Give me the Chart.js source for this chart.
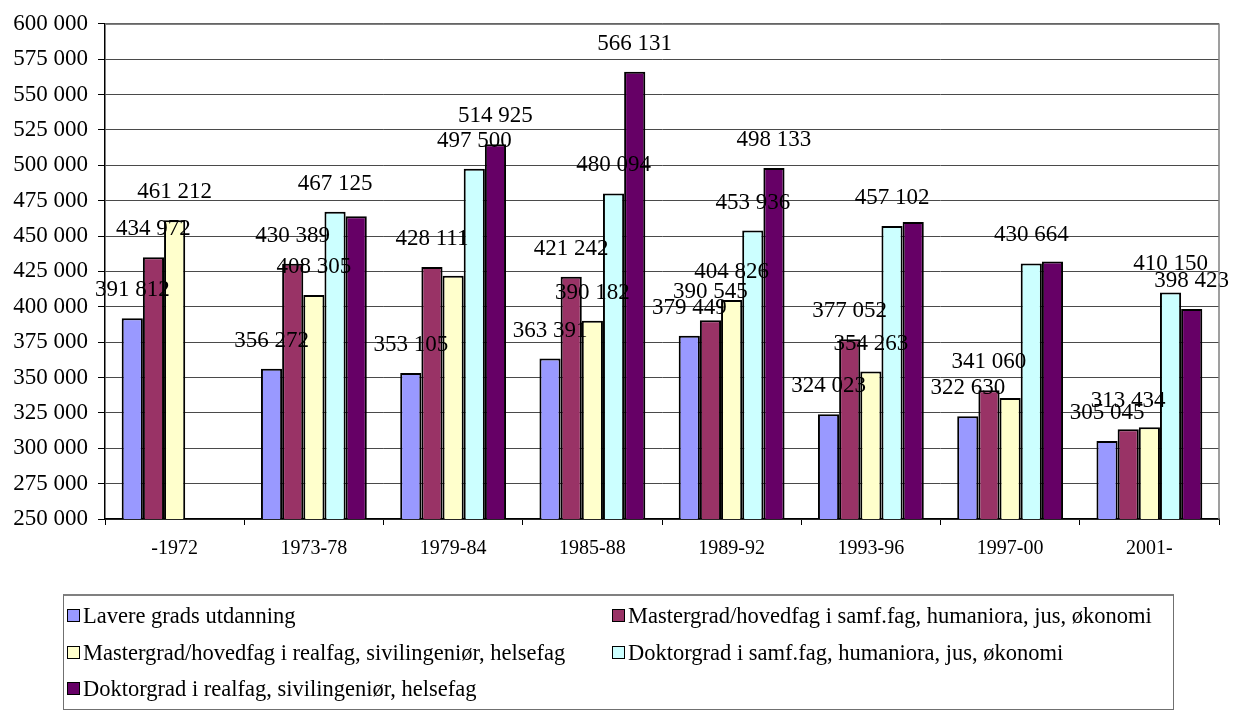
<!DOCTYPE html>
<html>
<head>
<meta charset="utf-8">
<script src="https://cdn.jsdelivr.net/npm/chart.js@4.4.1/dist/chart.umd.min.js"></script>
<style>
  html, body { margin: 0; padding: 0; background: #fff; }
  #wrap { position: relative; width: 1236px; height: 711px; overflow: hidden; }
  #c { position: absolute; left: 0; top: 0; }
  #legend {
    position: absolute; left: 63px; top: 594px; width: 1111px; height: 116px;
    border: 1px solid #707070; border-top: 2px solid #808080; box-sizing: border-box;
    font-family: "Liberation Serif", "Times New Roman", serif; font-size: 22.5px; color: #000;
  }
  .item { position: absolute; height: 26px; line-height: 26px; white-space: nowrap; }
  .sw { display: inline-block; width: 11px; height: 11px; border: 1px solid #000; vertical-align: middle; margin-right: 3px; position: relative; top: -2px; }
</style>
</head>
<body>
<div id="wrap">
  <canvas id="c" width="1236" height="711"></canvas>
  <div id="legend"></div>
</div>
<script>
const categories = ['-1972', '1973-78', '1979-84', '1985-88', '1989-92', '1993-96', '1997-00', '2001-'];

const seriesNames = [
  'Lavere grads utdanning',
  'Mastergrad/hovedfag i samf.fag, humaniora, jus, økonomi',
  'Mastergrad/hovedfag i realfag, sivilingeniør, helsefag',
  'Doktorgrad i samf.fag, humaniora, jus, økonomi',
  'Doktorgrad i realfag, sivilingeniør, helsefag'
];

const lavere     = [391812, 356272, 353105, 363391, 379449, 324023, 322630, 305045];
const masterSamf = [434972, 430389, 428111, 421242, 390545, 377052, 341060, 313434];
const masterReal = [461212, 408305, 422000, 390182, 404826, 354263, 335500, 314800];
const doktorSamf = [null,   467125, 497500, 480094, 453936, 457102, 430664, 410150];
const doktorReal = [null,   464000, 514925, 566131, 498133, 460000, 432000, 398423];

// which value labels are printed (some are not shown in the original)
const showLavere     = [true, true, true, true, true, true, true, true];
const showMasterSamf = [true, true, true, true, true, true, true, true];
const showMasterReal = [true, true, false, true, true, true, false, false];
const showDoktorSamf = [false, true, true, true, true, true, true, true];
const showDoktorReal = [false, false, true, true, true, false, false, true];

const yTicks = { min: 250000, max: 600000, step: 25000 };

const colors = ['#9999FF', '#993366', '#FFFFCC', '#CCFFFF', '#660066'];
const seriesValues = [lavere, masterSamf, masterReal, doktorSamf, doktorReal];
const seriesShow = [showLavere, showMasterSamf, showMasterReal, showDoktorSamf, showDoktorReal];

function fmt(v) {
  return String(Math.round(v)).replace(/\B(?=(\d{3})+(?!\d))/g, ' ');
}

const SERIF = '"Liberation Serif", "Times New Roman", serif';

const valueLabels = {
  id: 'valueLabels',
  afterDatasetsDraw(chart) {
    const ctx = chart.ctx;
    ctx.save();
    ctx.font = '23px ' + SERIF;
    ctx.fillStyle = '#000';
    ctx.textAlign = 'center';
    ctx.textBaseline = 'middle';
    chart.data.datasets.forEach((ds, di) => {
      const meta = chart.getDatasetMeta(di);
      meta.data.forEach((bar, i) => {
        const v = ds.data[i];
        if (v == null || !seriesShow[di][i]) return;
        ctx.fillText(fmt(v), bar.x, bar.y - 28);
      });
    });
    ctx.restore();
  }
};

const plotBorder = {
  id: 'plotBorder',
  afterDraw(chart) {
    const a = chart.chartArea;
    const ctx = chart.ctx;
    ctx.save();
    ctx.strokeStyle = '#808080';
    ctx.lineWidth = 1.5;
    ctx.beginPath();
    ctx.moveTo(a.left, a.top + 0.5);
    ctx.lineTo(a.right, a.top + 0.5);
    ctx.lineTo(a.right, a.bottom);
    ctx.stroke();
    ctx.restore();
  }
};

const chart = new Chart(document.getElementById('c'), {
  type: 'bar',
  data: {
    labels: categories,
    datasets: seriesValues.map((vals, i) => ({
      label: seriesNames[i],
      data: vals,
      backgroundColor: colors[i],
      borderColor: '#000',
      borderWidth: 2,
      categoryPercentage: 0.76,
      barPercentage: 1.0
    }))
  },
  options: {
    responsive: false,
    devicePixelRatio: 1,
    animation: false,
    layout: { padding: { left: 0, top: 19, right: 17, bottom: 142 } },
    plugins: {
      legend: { display: false },
      tooltip: { enabled: false }
    },
    scales: {
      x: {
        offset: true,
        grid: { display: true, drawOnChartArea: false, drawTicks: true, tickLength: 6, tickColor: '#000', offset: true },
        border: { display: true, color: '#000', width: 1.5 },
        ticks: { color: '#000', font: { family: SERIF, size: 20 }, padding: 12, maxRotation: 0, autoSkip: false },
        afterFit(scale) { scale.height = 50; }
      },
      y: {
        min: yTicks.min,
        max: yTicks.max,
        grid: { color: '#4a4a4a', lineWidth: 1, tickLength: 7, tickColor: '#000' },
        border: { display: true, color: '#000', width: 1.5 },
        ticks: {
          stepSize: yTicks.step,
          color: '#000',
          font: { family: SERIF, size: 23 },
          padding: 10,
          callback: (v) => fmt(v)
        },
        afterFit(scale) { scale.width = 105; }
      }
    }
  },
  plugins: [valueLabels, plotBorder]
});

// HTML legend built from the chart's datasets (two columns, like the original)
const legend = document.getElementById('legend');
const rowTops = [7, 44, 80];
const colLefts = [3, 548];
chart.data.datasets.forEach((ds, i) => {
  const el = document.createElement('div');
  el.className = 'item';
  el.style.left = colLefts[i % 2] + 'px';
  el.style.top = rowTops[Math.floor(i / 2)] + 'px';
  const sw = document.createElement('span');
  sw.className = 'sw';
  sw.style.background = ds.backgroundColor;
  el.appendChild(sw);
  el.appendChild(document.createTextNode(ds.label));
  legend.appendChild(el);
});
</script>
</body>
</html>
